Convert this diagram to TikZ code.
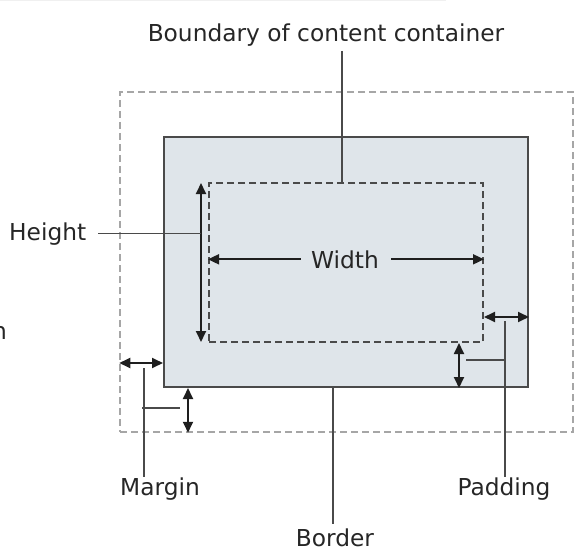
\documentclass[tikz,border=0pt]{standalone}
\usepackage{fontspec}
\setmainfont{DejaVu Sans}
\usetikzlibrary{arrows.meta}
\definecolor{ink}{HTML}{262626}
\definecolor{rulegray}{HTML}{4A4A4A}
\definecolor{dimgray}{HTML}{1E1E1E}
\definecolor{edgegray}{HTML}{A6A6A6}
\definecolor{boxfill}{HTML}{DFE5EA}
\definecolor{topline}{HTML}{F0F0F0}
\begin{document}
\begin{tikzpicture}[x=1pt,y=-1pt,
  lbl/.style={font=\fontsize{23.3}{28}\selectfont, text=ink, inner sep=0pt, anchor=base},
  lead/.style={draw=rulegray, line width=1.6pt},
  dimline/.style={draw=dimgray, line width=1.8pt,
    {Triangle[length=11pt,width=10pt]}-{Triangle[length=11pt,width=10pt]}},
  halfdim/.style={draw=dimgray, line width=1.8pt, -{Triangle[length=11pt,width=10pt]}},
  marginbox/.style={draw=edgegray, line width=1.5pt, dash pattern=on 7pt off 4pt,
    inner sep=0pt, minimum width=453pt, minimum height=340pt},
  borderbox/.style={draw=rulegray, fill=boxfill, line width=2pt,
    inner sep=0pt, minimum width=364pt, minimum height=250pt},
  contentbox/.style={draw=rulegray, line width=2pt, dash pattern=on 7pt off 4pt,
    inner sep=0pt, minimum width=274pt, minimum height=159pt},
]
\useasboundingbox (0,0) rectangle (580,556);
\clip (0,0) rectangle (580,556);

% faint rule along the top edge
\draw[topline, line width=1.5pt] (0,0.75) -- (446,0.75);

% nested boxes: margin, border, content
\node[marginbox] (margin) at (346.5,262) {};
\node[borderbox] (border) at (346,262) {};
\node[contentbox] (content) at (346,262.5) {};

% labels
\node[lbl] (title) at (326,42) {Boundary of content container};
\node[lbl, anchor=base west] (hlabel) at (9,240) {Height};
\node[lbl] (wlabel) at (345,268) {Width};
\node[lbl] (mlabel) at (160,495) {Margin};
\node[lbl] (plabel) at (504,495) {Padding};
\node[lbl] (blabel) at (335,546) {Border};
\node[lbl, anchor=base east] (edge) at (7,339) {n};

% content boundary leader
\coordinate (tTop) at (342,51);
\draw[lead] (tTop) -- (tTop |- content.north);

% height
\coordinate (hT) at (201,183);
\coordinate (hB) at (201,342);
\draw[dimline] (hT) -- (hB);
\draw[lead] ([xshift=12pt]hlabel.east) -- (hlabel.east -| hT);

% width
\draw[halfdim] ([xshift=-10pt]wlabel.west) -- (content.west |- wlabel.west);
\draw[halfdim] ([xshift=12pt]wlabel.east) -- (content.east |- wlabel.east);

% padding
\draw[dimline] (content.east |- 0,317) -- (border.east |- 0,317);
\draw[dimline] (content.south -| 459,0) -- (border.south -| 459,0);
\coordinate (pTop) at (505,321);
\coordinate (pJoin) at (505,360);
\draw[lead] (pTop) -- (pTop |- plabel.north);
\draw[lead] (pJoin) -- ++(-39,0);

% margin
\draw[dimline] (margin.west |- 0,363) -- (border.west |- 0,363);
\draw[dimline] (border.south -| 188,0) -- (margin.south -| 188,0);
\coordinate (mTop) at (144,368);
\coordinate (mJoin) at (144,408);
\draw[lead] (mTop) -- (mTop |- mlabel.north);
\draw[lead] ([xshift=-2pt]mJoin) -- ++(38,0);

% border
\coordinate (bTop) at (333,387);
\draw[lead] (bTop) -- ([yshift=4pt]bTop |- blabel.north);
\end{tikzpicture}
\end{document}
